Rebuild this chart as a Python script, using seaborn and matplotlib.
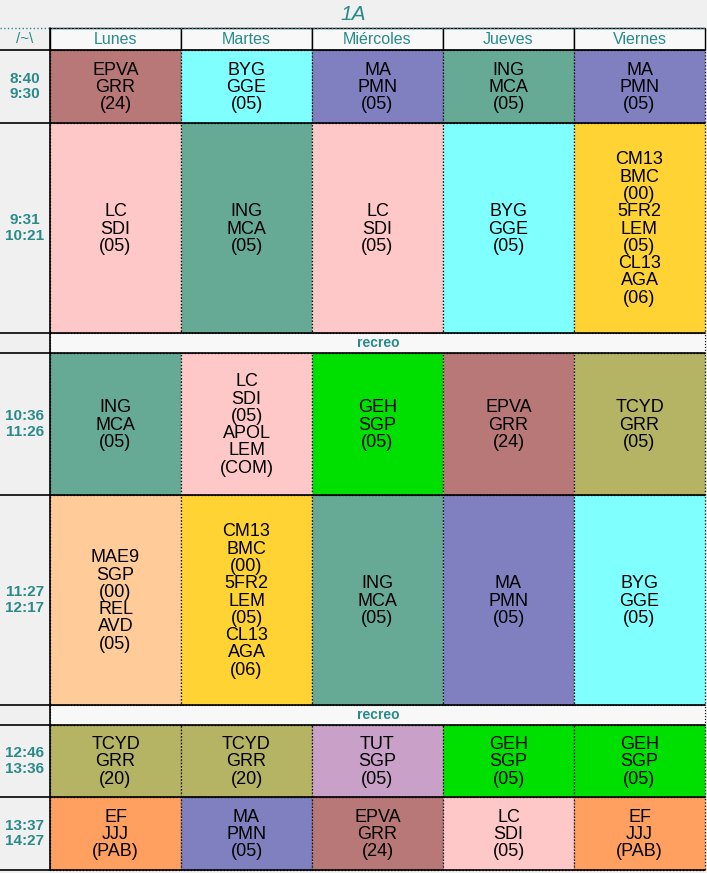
import matplotlib
matplotlib.use("Agg")
import matplotlib.pyplot as plt
import seaborn as sns
from matplotlib.patches import Rectangle

sns.set_style("white")
plt.rcParams['font.family'] = ['Liberation Sans', 'DejaVu Sans']

title = "1A"
corner = "/~\\"
days = ["Lunes", "Martes", "Miércoles", "Jueves", "Viernes"]
times = ["8:40\n9:30", "9:31\n10:21", "recreo", "10:36\n11:26", "11:27\n12:17", "recreo", "12:46\n13:36", "13:37\n14:27"]

colors = {
    "EPVA": "#b87878", "BYG": "#80ffff", "MA": "#8080c0", "ING": "#66aa96",
    "LC": "#ffc8c8", "CM13": "#ffd333", "GEH": "#00e000", "TCYD": "#b4b464",
    "MAE9": "#ffcc99", "TUT": "#c8a0c8", "EF": "#ffa060",
}
cells = [
    ["EPVA\nGRR\n(24)", "BYG\nGGE\n(05)", "MA\nPMN\n(05)", "ING\nMCA\n(05)", "MA\nPMN\n(05)"],
    ["LC\nSDI\n(05)", "ING\nMCA\n(05)", "LC\nSDI\n(05)", "BYG\nGGE\n(05)", "CM13\nBMC\n(00)\n5FR2\nLEM\n(05)\nCL13\nAGA\n(06)"],
    None,
    ["ING\nMCA\n(05)", "LC\nSDI\n(05)\nAPOL\nLEM\n(COM)", "GEH\nSGP\n(05)", "EPVA\nGRR\n(24)", "TCYD\nGRR\n(05)"],
    ["MAE9\nSGP\n(00)\nREL\nAVD\n(05)", "CM13\nBMC\n(00)\n5FR2\nLEM\n(05)\nCL13\nAGA\n(06)", "ING\nMCA\n(05)", "MA\nPMN\n(05)", "BYG\nGGE\n(05)"],
    None,
    ["TCYD\nGRR\n(20)", "TCYD\nGRR\n(20)", "TUT\nSGP\n(05)", "GEH\nSGP\n(05)", "GEH\nSGP\n(05)"],
    ["EF\nJJJ\n(PAB)", "MA\nPMN\n(05)", "EPVA\nGRR\n(24)", "LC\nSDI\n(05)", "EF\nJJJ\n(PAB)"],
]

W, H = 707, 873
col_x = [0, 50, 181, 312, 443, 574, 705]
row_y = [50, 123, 333, 353, 495, 705, 725, 797, 870]
teal = "#2a8a8a"

fig = plt.figure(figsize=(W/100, H/100), dpi=100)
ax = fig.add_axes([0, 0, 1, 1])
ax.set_xlim(0, W); ax.set_ylim(H, 0); ax.axis("off")
fig.patch.set_facecolor("#f0f0f0")

ax.text(353, 14, title, color=teal, fontsize=15, style="italic", ha="center", va="center")
ax.plot([0, 705], [28, 28], color=teal, lw=1, ls=":")
ax.text(25, 39, corner, color=teal, fontsize=11, ha="center", va="center")
for i, d in enumerate(days):
    x0, x1 = col_x[i+1], col_x[i+2]
    ax.add_patch(Rectangle((x0, 28), x1-x0, 22, facecolor="#f8f8f8", edgecolor="black", lw=1))
    ax.text((x0+x1)/2, 40, d, color=teal, fontsize=11.5, ha="center", va="center")

for r, t in enumerate(times):
    y0, y1 = row_y[r], row_y[r+1]
    ax.plot([0, 705], [y0, y0], color="black", lw=1.2)
    if t == "recreo":
        ax.add_patch(Rectangle((50, y0), 655, y1-y0, facecolor="#f8f8f8", edgecolor="black", lw=0.8, ls=":"))
        ax.text(378, (y0+y1)/2, t, color=teal, fontsize=10, weight="bold", ha="center", va="center")
        continue
    ax.text(25, (y0+y1)/2, t, color=teal, fontsize=11, weight="bold", ha="center", va="center", linespacing=1.1)
    for c, txt in enumerate(cells[r]):
        x0, x1 = col_x[c+1], col_x[c+2]
        key = txt.split("\n")[0]
        ax.add_patch(Rectangle((x0, y0), x1-x0, y1-y0, facecolor=colors[key], edgecolor="black", lw=0.9, ls=":"))
        ax.text((x0+x1)/2, (y0+y1)/2 + 1, txt, color="black", fontsize=13, ha="center", va="center", linespacing=1.02)
ax.plot([0, 705], [870, 870], color="black", lw=1.2)
ax.plot([50, 50], [28, 870], color="black", lw=1.2)
fig.savefig("out.png", dpi=100, facecolor=fig.get_facecolor())
